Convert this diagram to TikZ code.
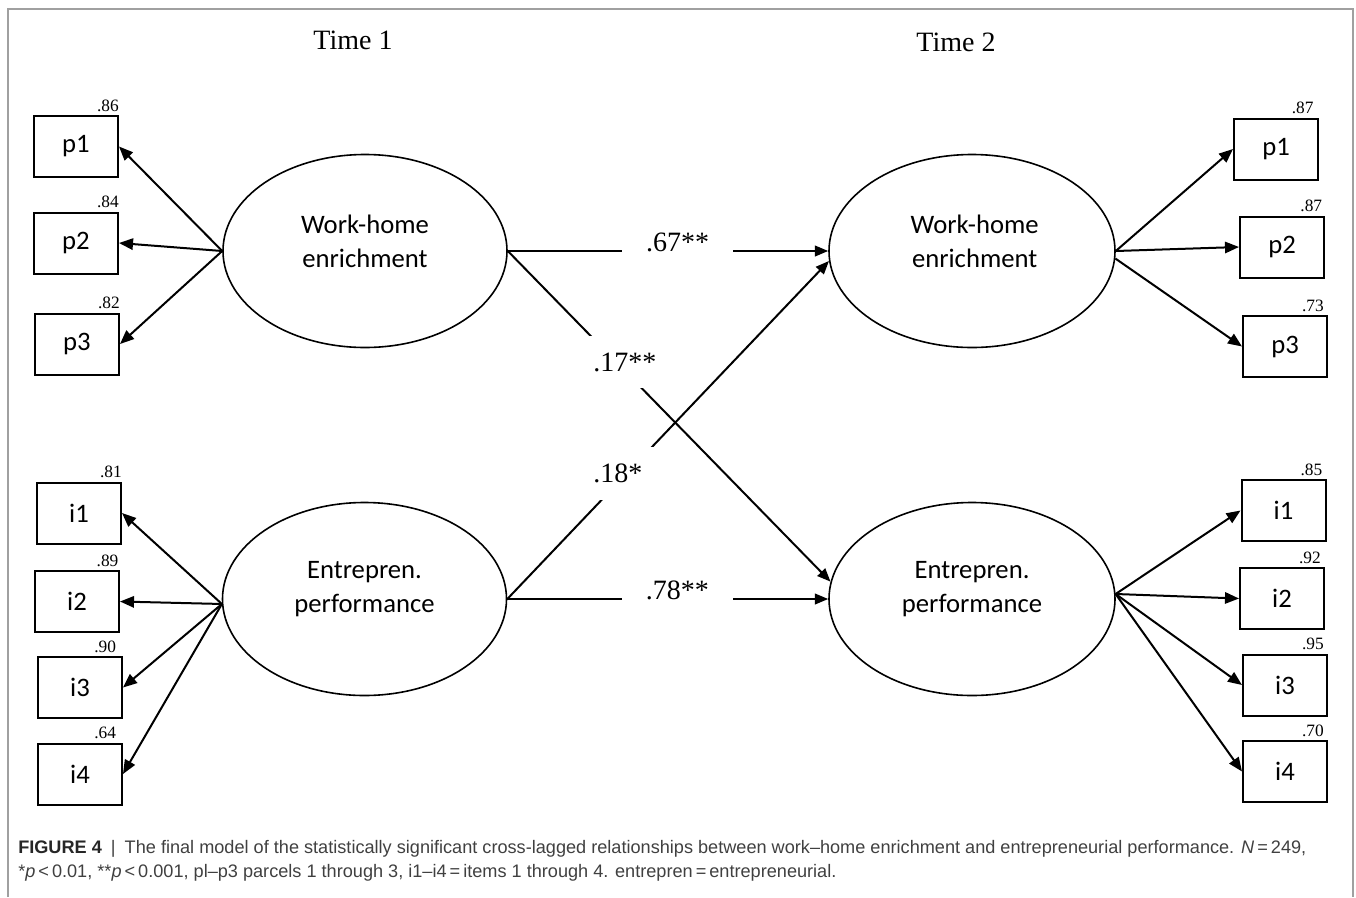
\documentclass[tikz,border=0pt]{standalone}
\usepackage{fontspec}
\setmainfont{Liberation Serif}
\newfontfamily\labelfont{Carlito}
\newfontfamily\capfont{Liberation Sans}
\usetikzlibrary{arrows.meta,shapes.geometric}

\definecolor{framegrey}{HTML}{A0A0A0}
\definecolor{captext}{HTML}{404040}

\begin{document}
\begin{tikzpicture}[x=0.75pt,y=-0.75pt,
  indicator/.style={draw, line width=1.5pt, minimum width=63pt, minimum height=45.75pt,
    inner sep=0pt, font=\labelfont\fontsize{20}{24}\selectfont},
  latent/.style={ellipse, draw, line width=1.2pt, minimum width=213pt, minimum height=144.75pt,
    inner sep=0pt},
  latentname/.style={align=center, font=\labelfont\fontsize{20}{25.5}\selectfont, yshift=7.5pt},
  loading/.style={anchor=base east, inner sep=0pt, font=\fontsize{13}{15}\selectfont},
  coef/.style={anchor=base, fill=white, inner xsep=18pt, inner ysep=12.5pt, font=\fontsize{21}{24}\selectfont},
  timelabel/.style={font=\fontsize{21}{24}\selectfont},
  load/.style={line width=1.5pt, -{Triangle[length=10.5pt,width=8.5pt]}},
  path/.style={line width=1.5pt, -{Triangle[length=10pt,width=8pt]}},
  capline/.style={anchor=base west, inner sep=0pt, text=captext, font=\capfont\fontsize{13.6}{16}\selectfont}
]
\useasboundingbox (0,0) rectangle (1356,897);
\draw[framegrey, line width=0.8pt] (8,897) -- (8,9) -- (1353,9) -- (1353,897);

% time headings
\node[timelabel] (t1) at (353,40) {Time 1};
\node[timelabel] (t2) at (956,42) {Time 2};

% latent factors
\node[latent] (wL) at (365,251) {};
\node[latent, minimum width=214.5pt] (wR) at (972,251) {};
\node[latent] (eL) at (364.5,599) {};
\node[latent, minimum width=214.5pt] (eR) at (972,599) {};
\node[latentname] (nwL) at (wL.center) {Work-home\\enrichment};
\node[latentname] (nwR) at ([xshift=2pt]wR.center) {Work-home\\enrichment};
\node[latentname] (neL) at (eL.center) {Entrepren.\\performance};
\node[latentname] (neR) at (eR.center) {Entrepren.\\performance};

% indicators, Time 1
\node[indicator] (p1L) at (76,146.5) {p1};
\node[indicator] (p2L) at (76,243) {p2};
\node[indicator] (p3L) at (77,344) {p3};
\node[indicator] (i1L) at (79,513) {i1};
\node[indicator] (i2L) at (77,601.5) {i2};
\node[indicator] (i3L) at (80,687.5) {i3};
\node[indicator] (i4L) at (80,774) {i4};

% indicators, Time 2
\node[indicator] (p1R) at (1276,149) {p1};
\node[indicator] (p2R) at (1282,247) {p2};
\node[indicator] (p3R) at (1285,346.5) {p3};
\node[indicator] (i1R) at (1283.5,510.5) {i1};
\node[indicator] (i2R) at (1282,598.5) {i2};
\node[indicator] (i3R) at (1285,685) {i3};
\node[indicator] (i4R) at (1285,771.5) {i4};

% factor loadings
\node[loading] (lp1L) at ([yshift=3pt]p1L.north east) {.86};
\node[loading] (lp2L) at ([yshift=3pt]p2L.north east) {.84};
\node[loading] (lp3L) at ([yshift=3pt]p3L.north east) {.82};
\node[loading] (li1L) at ([yshift=3pt]i1L.north east) {.81};
\node[loading] (li2L) at ([yshift=3pt,xshift=-1pt]i2L.north east) {.89};
\node[loading] (li3L) at ([yshift=3pt,xshift=-5pt]i3L.north east) {.90};
\node[loading] (li4L) at ([yshift=3pt,xshift=-5pt]i4L.north east) {.64};
\node[loading] (lp1R) at ([yshift=3pt,xshift=-4pt]p1R.north east) {.87};
\node[loading] (lp2R) at ([yshift=3pt,xshift=-2pt]p2R.north east) {.87};
\node[loading] (lp3R) at ([yshift=3pt,xshift=-3pt]p3R.north east) {.73};
\node[loading] (li1R) at ([yshift=3pt,xshift=-3pt]i1R.north east) {.85};
\node[loading] (li2R) at ([yshift=3pt,xshift=-3pt]i2R.north east) {.92};
\node[loading] (li3R) at ([yshift=3pt,xshift=-3pt]i3R.north east) {.95};
\node[loading] (li4R) at ([yshift=3pt,xshift=-3pt]i4R.north east) {.70};

% measurement arrows, Time 1
\foreach \b in {p1L,p2L,p3L} \draw[load] (wL.west) -- (\b.east);
\foreach \b in {i1L,i2L,i3L,i4L} \draw[load] (eL.182) -- (\b.east);

% measurement arrows, Time 2
\draw[load] (wR.east) -- (p1R.west);
\draw[load] (wR.east) -- (p2R.west);
\draw[load] (wR.357) -- (p3R.west);
\foreach \b in {i1R,i2R,i3R,i4R} \draw[load] (eR.2) -- (\b.west);

% structural paths
\draw[path] (wL.east) -- (wR.west) node[coef, pos=0.53] (c67) {.67**};
\draw[path] (eL.east) -- (eR.west) node[coef, pos=0.53] (c78) {.78**};
\draw[path] (wL.east) -- (eR.173) node[coef, pos=0.363] (c17) {.17**};
\draw[path] (eL.east) -- (wR.184) node[coef, pos=0.344] (c18) {.18*};

% caption
\node[capline] (cap1) at (18,853) {{\color{black!85}\textbf{FIGURE 4}}\enspace|\enspace The final model of the statistically significant cross-lagged relationships between work–home enrichment and entrepreneurial performance. \textit{N}\,=\,249,};
\node[capline] (cap2) at (18,877) {*\textit{p}\,<\,0.01, **\textit{p}\,<\,0.001, pl–p3 parcels 1 through 3, i1–i4\,=\,items 1 through 4. entrepren\,=\,entrepreneurial.};
\end{tikzpicture}
\end{document}
